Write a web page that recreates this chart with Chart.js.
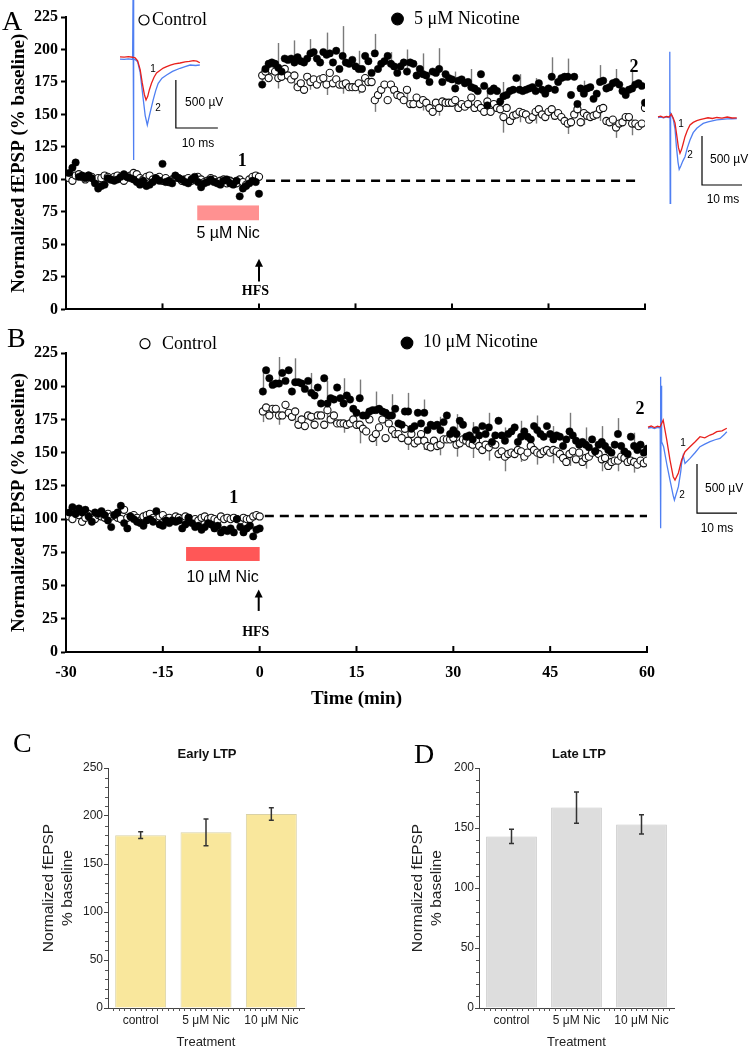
<!DOCTYPE html>
<html><head><meta charset="utf-8">
<script src="https://cdn.jsdelivr.net/npm/chart.js@4.4.1/dist/chart.umd.min.js"></script>
<style>
html,body{margin:0;padding:0;background:#fff;}
#wrap{position:relative;width:752px;height:1050px;overflow:hidden;background:#fff;}
canvas{position:absolute;pointer-events:none;}
</style></head><body>
<div id="wrap">
<canvas id="cA" width="752" height="322" style="left:0;top:0"></canvas>
<canvas id="cB" width="752" height="398" style="left:0;top:322px"></canvas>
<canvas id="cC" width="376" height="330" style="left:0;top:720px"></canvas>
<canvas id="cD" width="376" height="330" style="left:376px;top:720px"></canvas>
<canvas id="iA1" width="118" height="165" style="left:112px;top:0"></canvas>
<canvas id="iA2" width="102" height="170" style="left:650px;top:40px"></canvas>
<canvas id="iB" width="112" height="175" style="left:640px;top:365px"></canvas>
</div>
<script>
// ---------------- DATA ----------------
const baseTimes = [-29.5,-29,-28.5,-28,-27.5,-27,-26.5,-26,-25.5,-25,-24.5,-24,-23.5,-23,-22.5,-22,-21.5,-21,-20.5,-20,-19.5,-19,-18.5,-18,-17.5,-17,-16.5,-16,-15.5,-15,-14.5,-14,-13.5,-13,-12.5,-12,-11.5,-11,-10.5,-10,-9.5,-9,-8.5,-8,-7.5,-7,-6.5,-6,-5.5,-5,-4.5,-4,-3.5,-3,-2.5,-2,-1.5,-1,-0.5,0];
const postTimes = [0.5,1,1.5,2,2.5,3,3.5,4,4.5,5,5.5,6,6.5,7,7.5,8,8.5,9,9.5,10,10.5,11,11.5,12,12.5,13,13.5,14,14.5,15,15.5,16,16.5,17,17.5,18,18.5,19,19.5,20,20.5,21,21.5,22,22.5,23,23.5,24,24.5,25,25.5,26,26.5,27,27.5,28,28.5,29,29.5,30,30.5,31,31.5,32,32.5,33,33.5,34,34.5,35,35.5,36,36.5,37,37.5,38,38.5,39,39.5,40,40.5,41,41.5,42,42.5,43,43.5,44,44.5,45,45.5,46,46.5,47,47.5,48,48.5,49,49.5,50,50.5,51,51.5,52,52.5,53,53.5,54,54.5,55,55.5,56,56.5,57,57.5,58,58.5,59,59.5,60];

// Panel A (5 uM nicotine)
const nicA_base = [105,109,113,102,103,101,103,101,97,93,95,96,101,100,99,100,102,104,102,101,100,98,96,99,95,96,98,101,99,112,98,99,97,103,101,100,98,97,100,102,98,94,97,98,100,98,97,96,99,100,97,96,99,87,93,95,97,99,98,89];
const ctrlA_base = [101,99,103,104,102,100,103,102,99,101,101,103,102,100,102,103,101,99,102,103,105,104,101,100,102,103,100,101,102,99,101,98,100,102,101,99,100,101,99,100,102,100,98,99,101,100,98,99,100,97,99,98,97,100,98,96,100,102,103,102];
const nicA_post = [173,185,189,190,189,186,183,193,192,193,190,194,191,190,193,197,198,193,190,198,196,197,190,199,185,195,190,189,192,187,185,185,195,191,182,197,185,189,191,195,189,187,182,187,190,183,190,189,180,185,181,180,175,183,182,185,175,181,178,177,
170,176,177,174,175,171,170,168,181,172,157,168,170,168,160,164,165,168,169,178,169,168,169,170,171,168,174,169,166,170,179,169,175,178,179,179,165,179,158,170,166,170,171,162,166,175,176,170,171,174,175,173,168,165,169,170,173,174,172,159];
const ctrlA_post = [180,183,178,184,183,178,179,185,180,177,180,171,174,169,179,175,177,173,177,178,173,182,174,177,173,173,174,171,171,171,174,170,178,175,175,161,165,169,173,161,173,169,165,164,161,169,158,158,163,158,161,159,155,152,159,155,160,159,159,159,
161,155,158,156,158,163,155,158,155,152,160,152,158,155,154,148,155,145,149,150,152,151,150,146,148,152,154,150,148,152,154,149,151,148,145,143,144,150,154,144,151,149,148,149,150,154,155,145,144,146,140,143,144,148,148,143,143,141,143,155];

// Panel B (10 uM nicotine)
const nicB_base = [105,109,104,108,105,107,102,98,105,104,106,103,99,94,103,105,110,97,93,102,100,98,97,95,99,100,98,106,96,95,99,97,99,98,99,93,96,101,97,94,95,92,94,97,96,93,95,90,92,91,93,90,100,94,90,93,95,87,92,93];
const ctrlB_base = [102,100,104,103,98,101,104,103,100,103,102,101,104,102,103,101,100,107,101,102,103,101,99,102,103,104,101,100,102,103,100,101,99,102,101,100,102,101,98,100,99,101,102,100,101,100,99,102,100,101,100,101,100,99,101,100,100,102,103,102];
const nicB_post = [196,212,206,201,202,202,210,204,212,196,203,203,202,198,204,195,193,199,187,206,187,191,190,199,191,187,193,190,183,180,191,178,178,181,182,182,183,181,180,178,178,183,172,171,181,181,168,170,180,172,180,167,171,170,171,167,173,178,164,167,
164,174,171,162,163,160,167,163,170,164,169,158,163,174,163,159,164,166,169,158,162,166,162,160,170,167,164,162,170,164,160,163,162,155,160,166,163,159,156,158,156,154,160,151,156,158,155,152,150,156,164,155,151,149,162,155,152,156,150,153];
const ctrlB_post = [181,184,178,183,183,178,178,186,180,177,181,171,175,170,178,177,171,178,178,171,182,175,178,172,172,172,171,172,175,171,171,168,166,175,161,164,169,175,161,172,167,164,164,161,168,159,164,157,159,164,159,155,154,159,155,156,160,160,160,161,
156,157,160,159,157,156,159,155,152,156,154,157,156,149,151,147,149,150,149,152,151,147,150,155,152,150,149,151,152,150,152,151,149,146,143,149,151,145,150,143,146,147,150,151,149,145,146,140,143,144,144,147,146,143,144,143,141,144,142,144];

// SEM bars (shown every 2.5 min)
const errTimes = [0.5,3,5.5,8,10.5,13,15.5,18,20.5,23,25.5,28,30.5,33,35.5,38,40.5,43,45.5,48,50.5,53,55.5,58];
const errA_nic  = [12,19,17,11,17,23,14,15,9,17,16,16,13,14,15,11,12,10,15,14,10,13,10,15];
const errA_ctrl = [6,8,7,6,8,7,8,9,7,8,8,6,8,9,10,12,8,9,8,8,9,9,8,9];
const errB_nic  = [16,20,18,15,17,19,14,14,16,14,10,10,15,13,11,10,12,11,10,14,13,12,12,10];
const errB_ctrl = [8,7,8,6,7,7,14,9,6,7,7,8,9,10,10,11,8,9,10,9,8,9,8,8];

const timeTicks = [-30,-15,0,15,30,45,60];
const fepspTicks = [0,25,50,75,100,125,150,175,200,225];

// Panels C, D
const barCats = ['control','5 μM Nic','10 μM Nic'];
const earlyMean = [180,183,202];
const earlySem  = [3.5,14,6.5];
const lateMean  = [143,167,153];
const lateSem   = [6,13,8];

// Inset traces (time in ms, amplitude in µV)
const trA1_tRed  = [0,1,2,3,3.6,4.2,4.8,5.3,5.8,6.2,6.6,7.0,7.5,8.1,8.7,9.5,10.3,11.1,12,13,14.3,15.5,16.5,17.5,18.3,19];
const trA1_red   = [12,10,14,8,2,-30,-120,-260,-380,-437,-400,-330,-264,-200,-156,-130,-105,-90,-75,-62,-52,-40,-35,-28,-32,-49];
const trA1_tBlue = [0,1,2,3.0,3.1,3.2,3.3,3.6,4.2,4.8,5.4,6.0,6.5,7.0,7.9,8.5,9.1,10,11.1,12.5,14.3,15.5,16.7,18,19];
const trA1_blue  = [-12,-15,-10,-15,604,-1062,-20,-15,-40,-150,-380,-600,-698,-600,-437,-340,-264,-210,-177,-140,-107,-90,-73,-78,-73];

const trA2_tRed  = [0,0.7,1.4,2.1,2.8,3.3,3.8,4.25,4.7,5.1,5.5,5.9,6.3,6.75,7.3,8.0,8.8,9.7,10.5,11.3,12.5,13.6,14.7,16,17.3,18.5,19.7];
const trA2_red   = [0,8,-5,5,0,30,-10,-60,-190,-310,-370,-330,-270,-201,-140,-82,-55,-38,-28,-20,-8,-15,-5,-12,0,-10,-8];
const trA2_tBlue = [0,0.7,1.4,2.1,2.8,2.95,3.05,3.15,3.4,3.8,4.25,4.6,5.0,5.3,5.7,6.2,6.75,7.3,8.0,8.8,9.7,10.5,11.3,12.5,13.6,14.7,16,17.3,18.5,19.7];
const trA2_blue  = [-5,-2,-8,0,-5,666,-880,40,20,-20,-120,-300,-460,-534,-500,-450,-405,-320,-235,-160,-115,-90,-65,-50,-40,-30,-25,-20,-18,-17];

const trB_tRed  = [0,0.8,1.6,2.4,3.0,3.8,4.7,5.5,6.3,6.75,7.6,8.4,9.25,10.5,11.8,13,14.2,15.5,16.3,17.2,18.5,19.7];
const trB_red   = [0,10,-5,8,0,71,-133,-337,-507,-541,-469,-337,-252,-201,-150,-99,-110,-82,-70,-48,-40,-13];
const trB_tBlue = [0,0.8,1.6,2.4,3.05,3.12,3.2,3.28,3.4,3.9,4.7,5.5,6.3,6.6,7.6,8.2,8.4,8.8,9.25,10.5,11.8,13,14.2,15.5,16.8,18,19,19.7];
const trB_blue  = [-10,-5,-15,-5,-10,513,-1034,420,-150,-201,-380,-541,-700,-745,-609,-450,-371,-290,-371,-320,-260,-201,-175,-150,-130,-116,-80,-48];

const scaleBarUv = 500, scaleBarMs = 10;

// ---------------- HELPERS / PLUGINS ----------------
const SERIF = "'Liberation Serif','Times New Roman',serif";
const SANS = "'Liberation Sans',Arial,sans-serif";
function pairs(xs, ys){ return xs.map((x,i)=>({x:x, y:ys[i]})); }

const notesPlugin = {
  id:'notes',
  afterDraw(chart, args, opts){
    if(!opts || !opts.items) return;
    const ctx = chart.ctx, sx = chart.scales.x, sy = chart.scales.y;
    const X = v => sx.getPixelForValue(v), Y = v => sy.getPixelForValue(v);
    ctx.save();
    for(const it of opts.items){
      if(it.type==='text'){
        ctx.font = it.font; ctx.fillStyle = it.color||'#000';
        ctx.textAlign = it.align||'center'; ctx.textBaseline = it.baseline||'alphabetic';
        const px = it.px!==undefined ? it.px : X(it.x);
        const py = it.py!==undefined ? it.py : Y(it.y);
        ctx.fillText(it.text, px, py);
      } else if(it.type==='circle'){
        ctx.beginPath(); ctx.arc(it.px, it.py, it.r, 0, Math.PI*2);
        ctx.fillStyle = it.fill; ctx.fill();
        ctx.lineWidth = it.lw||1.2; ctx.strokeStyle = '#000'; ctx.stroke();
      } else if(it.type==='rect'){
        const x1 = X(it.x1), x2 = X(it.x2), y1 = Y(it.y1), y2 = Y(it.y2);
        ctx.fillStyle = it.fill; ctx.fillRect(x1, y2, x2-x1, y1-y2);
      } else if(it.type==='dash'){
        ctx.setLineDash(it.dash); ctx.lineWidth = it.lw; ctx.strokeStyle = '#000';
        ctx.beginPath(); ctx.moveTo(X(it.x1), Y(it.y)); ctx.lineTo(X(it.x2), Y(it.y)); ctx.stroke();
        ctx.setLineDash([]);
      } else if(it.type==='arrow'){
        const x = X(it.x), yb = Y(it.y1), yt = Y(it.y2);
        ctx.strokeStyle='#000'; ctx.fillStyle='#000'; ctx.lineWidth=2;
        ctx.beginPath(); ctx.moveTo(x, yb); ctx.lineTo(x, yt+6); ctx.stroke();
        ctx.beginPath(); ctx.moveTo(x, yt); ctx.lineTo(x-4, yt+8); ctx.lineTo(x+4, yt+8); ctx.closePath(); ctx.fill();
      }
    }
    ctx.restore();
  }
};

const errPlugin = {
  id:'errbars',
  beforeDatasetsDraw(chart, args, opts){
    if(!opts || !opts.sets) return;
    const ctx = chart.ctx, sx = chart.scales.x, sy = chart.scales.y;
    ctx.save(); ctx.strokeStyle = '#7a7a7a'; ctx.lineWidth = 1.4;
    for(const s of opts.sets){
      const data = chart.data.datasets[s.ds].data;
      s.times.forEach((t,i)=>{
        const pt = data.find(d=>d.x===t); if(!pt) return;
        const x = Math.round(sx.getPixelForValue(t))+0.5;
        ctx.beginPath(); ctx.moveTo(x, sy.getPixelForValue(pt.y));
        ctx.lineTo(x, sy.getPixelForValue(pt.y + s.dir*s.err[i])); ctx.stroke();
      });
    }
    ctx.restore();
  }
};

const inTicksPlugin = {
  id:'inticks',
  afterDraw(chart, args, opts){
    if(!opts || !opts.values) return;
    const ctx = chart.ctx, sx = chart.scales.x, b = chart.chartArea.bottom;
    ctx.save(); ctx.strokeStyle='#000'; ctx.lineWidth=2;
    for(const v of opts.values){
      const x = sx.getPixelForValue(v);
      ctx.beginPath(); ctx.moveTo(x, b); ctx.lineTo(x, b-6); ctx.stroke();
    }
    ctx.restore();
  }
};

const barErrPlugin = {
  id:'barerr',
  afterDatasetsDraw(chart, args, opts){
    if(!opts || !opts.sem) return;
    const ctx = chart.ctx, sy = chart.scales.y, meta = chart.getDatasetMeta(0);
    const d = chart.data.datasets[0].data;
    ctx.save(); ctx.strokeStyle='#333'; ctx.lineWidth=1.5;
    meta.data.forEach((bar,i)=>{
      const x = bar.x, y1 = sy.getPixelForValue(d[i]-opts.sem[i]), y2 = sy.getPixelForValue(d[i]+opts.sem[i]);
      ctx.beginPath(); ctx.moveTo(x,y1); ctx.lineTo(x,y2);
      ctx.moveTo(x-2.5,y1); ctx.lineTo(x+2.5,y1); ctx.moveTo(x-2.5,y2); ctx.lineTo(x+2.5,y2); ctx.stroke();
    });
    ctx.restore();
  }
};

const minorPlugin = {
  id:'minor',
  afterDraw(chart, args, opts){
    if(!opts || !opts.yStep) return;
    const ctx = chart.ctx, sy = chart.scales.y, sx = chart.scales.x, ca = chart.chartArea;
    ctx.save(); ctx.strokeStyle='#555'; ctx.lineWidth=1;
    for(let v = sy.min; v <= sy.max; v += opts.yStep){
      if(v % opts.major === 0) continue;
      const y = Math.round(sy.getPixelForValue(v))+0.5;
      ctx.beginPath(); ctx.moveTo(ca.left-3, y); ctx.lineTo(ca.left, y); ctx.stroke();
    }
    const n = chart.data.labels.length;
    for(let k = 1; k < n*opts.xDiv; k++){
      const x = Math.round(sx.getPixelForValue(-0.5 + k/opts.xDiv))+0.5;
      ctx.beginPath(); ctx.moveTo(x, ca.bottom); ctx.lineTo(x, ca.bottom+3); ctx.stroke();
    }
    ctx.restore();
  }
};

Chart.register(notesPlugin, errPlugin, inTicksPlugin, barErrPlugin, minorPlugin);

// ---------------- TIME-COURSE PANELS ----------------
const allTimes = baseTimes.concat(postTimes);
function timeChart(id, o){
  return new Chart(document.getElementById(id), {
    type:'scatter',
    data:{datasets:[
      {label:o.nicLabel, data:pairs(allTimes, o.nicBase.concat(o.nicPost)), pointRadius:3.7, pointBackgroundColor:'#000', pointBorderColor:'#000', pointBorderWidth:0.5},
      {label:'Control', data:pairs(allTimes, o.ctrlBase.concat(o.ctrlPost)), pointRadius:3.6, pointBackgroundColor:'#fff', pointBorderColor:'#111', pointBorderWidth:1.1}
    ]},
    options:{
      animation:false, responsive:false, events:[],
      layout:{padding:{left:0, top:o.top, right:o.right, bottom:0}},
      plugins:{legend:{display:false}, tooltip:{enabled:false},
        notes:{items:o.notes},
        errbars:{sets:[{ds:0, times:errTimes, err:o.errNic, dir:1},{ds:1, times:errTimes, err:o.errCtrl, dir:-1}]},
        inticks:{values:timeTicks}},
      scales:{
        x:{type:'linear', min:-30, max:60,
          afterBuildTicks:s=>{ s.ticks = timeTicks.map(v=>({value:v})); },
          grid:{display:false, drawTicks:false}, border:{display:true, color:'#000', width:2},
          ticks:{display:o.showX, font:{family:SERIF, size:16, weight:'bold'}, color:'#000', padding:11, maxRotation:0, autoSkip:false},
          title:{display:o.showX, text:'Time (min)', font:{family:SERIF, size:19, weight:'bold'}, color:'#000', padding:{top:0, bottom:10}},
          afterFit:s=>{ s.height = o.xh; }},
        y:{type:'linear', min:0, max:225,
          afterBuildTicks:s=>{ s.ticks = fepspTicks.map(v=>({value:v})); },
          grid:{display:true, drawOnChartArea:false, drawTicks:true, tickLength:5, tickWidth:2, tickColor:'#000'},
          border:{display:true, color:'#000', width:2},
          ticks:{font:{family:SERIF, size:16, weight:'bold'}, color:'#000', padding:3},
          title:{display:true, text:'Normalized fEPSP (% baseline)', font:{family:SERIF, size:19, weight:'bold'}, color:'#000', padding:{top:8, bottom:0}},
          afterFit:s=>{ s.width = 66; }}
      }
    }
  });
}

timeChart('cA', {
  nicLabel:'5 μM Nicotine', nicBase:nicA_base, nicPost:nicA_post, ctrlBase:ctrlA_base, ctrlPost:ctrlA_post,
  errNic:errA_nic, errCtrl:errA_ctrl, top:17, right:107, xh:9, showX:false,
  notes:[
    {type:'text', px:2, py:30, text:'A', font:"28px "+SERIF, align:'left'},
    {type:'circle', px:144, py:20, r:5, fill:'#fff'},
    {type:'text', px:152, py:25, text:'Control', font:"18px "+SERIF, align:'left'},
    {type:'circle', px:397.5, py:19, r:5.8, fill:'#000'},
    {type:'text', px:414, py:24, text:'5 μM Nicotine', font:"18px "+SERIF, align:'left'},
    {type:'dash', x1:1.1, x2:58.8, y:99, dash:[9,6], lw:2.5},
    {type:'rect', x1:-9.6, x2:0, y1:68.6, y2:80, fill:'#ff9191'},
    {type:'text', x:-4.8, y:54.9, text:'5 µM Nic', font:"16px "+SANS},
    {type:'arrow', x:0, y1:21.4, y2:39},
    {type:'text', x:-0.55, y:11.4, text:'HFS', font:"bold 14px "+SERIF},
    {type:'text', x:-2.6, y:110.6, text:'1', font:"bold 18px "+SERIF},
    {type:'text', x:58.3, y:183, text:'2', font:"bold 18px "+SERIF}
  ]
});

timeChart('cB', {
  nicLabel:'10 μM Nicotine', nicBase:nicB_base, nicPost:nicB_post, ctrlBase:ctrlB_base, ctrlPost:ctrlB_post,
  errNic:errB_nic, errCtrl:errB_ctrl, top:31, right:105, xh:68, showX:true,
  notes:[
    {type:'text', px:7, py:25, text:'B', font:"28px "+SERIF, align:'left'},
    {type:'circle', px:145, py:21.7, r:5, fill:'#fff'},
    {type:'text', px:162, py:27, text:'Control', font:"18px "+SERIF, align:'left'},
    {type:'circle', px:407, py:21, r:5.8, fill:'#000'},
    {type:'text', px:423, py:25, text:'10 μM Nicotine', font:"18px "+SERIF, align:'left'},
    {type:'dash', x1:0.8, x2:60, y:102.3, dash:[9,6], lw:2.5},
    {type:'rect', x1:-11.4, x2:0, y1:68.5, y2:79, fill:'#ff5757'},
    {type:'text', x:-5.75, y:52.7, text:'10 µM Nic', font:"16px "+SANS},
    {type:'arrow', x:-0.15, y1:30.9, y2:47},
    {type:'text', x:-0.6, y:12, text:'HFS', font:"bold 14px "+SERIF},
    {type:'text', x:-4.0, y:112.1, text:'1', font:"bold 18px "+SERIF},
    {type:'text', x:58.9, y:179.1, text:'2', font:"bold 18px "+SERIF}
  ]
});

// ---------------- BAR PANELS ----------------
function barChart(id, o){
  return new Chart(document.getElementById(id), {
    type:'bar',
    data:{labels:barCats, datasets:[{data:o.mean, backgroundColor:o.fill, borderColor:o.border, borderWidth:1, barPercentage:0.78, categoryPercentage:1}]},
    options:{
      animation:false, responsive:false, events:[],
      layout:{padding:{left:0, top:48, right:o.right, bottom:0}},
      plugins:{legend:{display:false}, tooltip:{enabled:false},
        barerr:{sem:o.sem}, minor:{yStep:10, major:50, xDiv:12},
        notes:{items:o.notes}},
      scales:{
        x:{grid:{display:false, drawTicks:false}, border:{display:true, color:'#444', width:1},
          ticks:{font:{family:SANS, size:12}, color:'#222', padding:5},
          title:{display:true, text:'Treatment', font:{family:SANS, size:13}, color:'#222', padding:{top:0, bottom:0}},
          afterFit:s=>{ s.height = 42; }},
        y:{min:0, max:o.max, ticks:{stepSize:50, font:{family:SANS, size:12}, color:'#222', padding:1},
          grid:{display:true, drawOnChartArea:false, drawTicks:true, tickLength:4, tickColor:'#444'},
          border:{display:true, color:'#444', width:1},
          title:{display:true, text:['Normalized fEPSP','% baseline'], font:{family:SANS, size:15.5, lineHeight:1.23}, color:'#222', padding:{top:o.titlePad, bottom:0}},
          afterFit:s=>{ s.width = o.yw; }}
      }
    }
  });
}

barChart('cC', {mean:earlyMean, sem:earlySem, max:250, fill:'#f9e79c', border:'#d9d1a6', right:72, yw:108, titlePad:39,
  notes:[
    {type:'text', px:13, py:32, text:'C', font:"28px "+SERIF, align:'left'},
    {type:'text', px:207, py:38, text:'Early LTP', font:"bold 13px "+SANS, color:'#111'}
  ]});
barChart('cD', {mean:lateMean, sem:lateSem, max:200, fill:'#dddddd', border:'#c6c6c6', right:78, yw:103, titlePad:32,
  notes:[
    {type:'text', px:38, py:43, text:'D', font:"28px "+SERIF, align:'left'},
    {type:'text', px:203, py:38, text:'Late LTP', font:"bold 13px "+SANS, color:'#111'}
  ]});

// ---------------- INSET TRACES ----------------
function insetChart(id, tRed, red, tBlue, blue, g, labels){
  const bar = [{x:g.bx, y:g.by+scaleBarUv}, {x:g.bx, y:g.by}, {x:g.bx+scaleBarMs, y:g.by}];
  return new Chart(document.getElementById(id), {
    type:'line',
    data:{datasets:[
      {data:pairs(tRed, red), borderColor:'#e8201c', borderWidth:1.3, pointRadius:0, tension:0},
      {data:pairs(tBlue, blue), borderColor:'#4f7ff2', borderWidth:1.3, pointRadius:0, tension:0},
      {data:bar, borderColor:'#000', borderWidth:1.2, pointRadius:0, tension:0}
    ]},
    options:{
      animation:false, responsive:false, events:[], layout:{padding:0},
      plugins:{legend:{display:false}, tooltip:{enabled:false}, notes:{items:labels}},
      scales:{x:{type:'linear', display:false, min:g.xmin, max:g.xmax},
              y:{type:'linear', display:false, min:g.ymin, max:g.ymax}}
    }
  });
}
const F12 = "12px "+SANS, F10 = "10px "+SANS;
insetChart('iA1', trA1_tRed, trA1_red, trA1_tBlue, trA1_blue,
  {xmin:-1.905, xmax:26.19, ymin:-1114.6, ymax:604.2, bx:13.3, by:-729},
  [{type:'text', x:7.86, y:-146, text:'1', font:F10},
   {type:'text', x:9.05, y:-552, text:'2', font:F10},
   {type:'text', x:15.5, y:-500, text:'500 µV', font:F12, align:'left'},
   {type:'text', x:18.57, y:-927, text:'10 ms', font:F12}]);
insetChart('iA2', trA2_tRed, trA2_red, trA2_tBlue, trA2_blue,
  {xmin:-2, xmax:23.5, ymin:-949, ymax:785.7, bx:11, by:-694},
  [{type:'text', x:5.75, y:-102, text:'1', font:F10},
   {type:'text', x:8, y:-418, text:'2', font:F10},
   {type:'text', x:13, y:-469, text:'500 µV', font:F12, align:'left'},
   {type:'text', x:16.25, y:-878, text:'10 ms', font:F12}]);
insetChart('iB', trB_tRed, trB_red, trB_tBlue, trB_blue,
  {xmin:-2, xmax:26, ymin:-1153, ymax:632.7, bx:12.25, by:-878},
  [{type:'text', x:8.75, y:-194, text:'1', font:F10},
   {type:'text', x:8.5, y:-724, text:'2', font:F10},
   {type:'text', x:14.25, y:-663, text:'500 µV', font:F12, align:'left'},
   {type:'text', x:17.25, y:-1071, text:'10 ms', font:F12}]);
</script>
</body></html>
